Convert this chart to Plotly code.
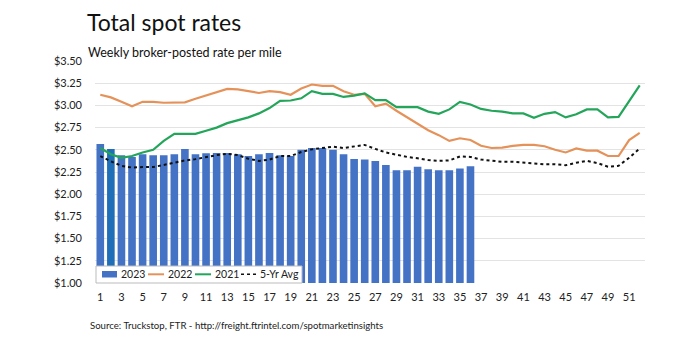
import plotly.graph_objects as go

weeks = list(range(1, 53))
tick_weeks = list(range(1, 52, 2))

rates_2023 = [2.565, 2.51, 2.44, 2.42, 2.45, 2.44, 2.44, 2.45, 2.51, 2.45,
              2.46, 2.465, 2.465, 2.45, 2.43, 2.45, 2.465, 2.44, 2.43, 2.50,
              2.52, 2.52, 2.50, 2.45, 2.395, 2.39, 2.375, 2.33, 2.27, 2.27,
              2.31, 2.28, 2.27, 2.27, 2.29, 2.315]

rates_2022 = [3.12, 3.09, 3.04, 2.99, 3.04, 3.04, 3.03, 3.03, 3.035, 3.075,
              3.11, 3.15, 3.185, 3.18, 3.16, 3.14, 3.16, 3.15, 3.12, 3.19,
              3.235, 3.22, 3.22, 3.16, 3.12, 3.13, 2.99, 3.02, 2.94, 2.865,
              2.79, 2.72, 2.665, 2.60, 2.63, 2.61, 2.545, 2.52, 2.525, 2.545,
              2.555, 2.555, 2.54, 2.50, 2.47, 2.515, 2.49, 2.49, 2.43, 2.43,
              2.61, 2.69]

rates_2021 = [2.52, 2.45, 2.41, 2.43, 2.47, 2.50, 2.60, 2.68, 2.68, 2.68,
              2.715, 2.75, 2.80, 2.83, 2.865, 2.91, 2.97, 3.05, 3.055, 3.08,
              3.16, 3.13, 3.13, 3.095, 3.11, 3.135, 3.06, 3.06, 2.98, 2.98,
              2.98, 2.93, 2.905, 2.955, 3.04, 3.01, 2.96, 2.94, 2.93, 2.91,
              2.91, 2.86, 2.905, 2.925, 2.865, 2.90, 2.955, 2.955, 2.865, 2.87,
              3.055, 3.225]

avg_5yr = [2.43, 2.37, 2.32, 2.30, 2.305, 2.305, 2.33, 2.355, 2.38, 2.395,
           2.42, 2.44, 2.455, 2.44, 2.40, 2.375, 2.39, 2.43, 2.43, 2.475,
           2.505, 2.52, 2.535, 2.52, 2.535, 2.555, 2.51, 2.47, 2.445, 2.42,
           2.405, 2.385, 2.375, 2.38, 2.425, 2.42, 2.39, 2.375, 2.365, 2.365,
           2.355, 2.345, 2.337, 2.337, 2.326, 2.355, 2.375, 2.35, 2.31, 2.32,
           2.41, 2.515]

series_names = ["2023", "2022", "2021", "5-Yr Avg"]

BLUE, BLUE_HL = "#4472C4", "#1F6FB8"
ORANGE, GREEN, DOT = "#E5925A", "#23A55A", "#111111"

bar_colors = [BLUE] * len(rates_2023)
bar_colors[1] = BLUE_HL

fig = go.Figure()
fig.add_trace(go.Bar(x=weeks[:len(rates_2023)], y=rates_2023, name=series_names[0],
                     marker=dict(color=bar_colors, line=dict(width=0)),
                     width=0.72))
fig.add_trace(go.Scatter(x=weeks, y=rates_2022, name=series_names[1], mode="lines",
                         line=dict(color=ORANGE, width=2.2)))
fig.add_trace(go.Scatter(x=weeks, y=rates_2021, name=series_names[2], mode="lines",
                         line=dict(color=GREEN, width=2.2)))
fig.add_trace(go.Scatter(x=weeks, y=avg_5yr, name=series_names[3], mode="lines",
                         line=dict(color=DOT, width=2, dash="dot")))

font_family = "Lato, 'Open Sans', sans-serif"

W, H = 683, 354
pl, pr, pt, pb = 95, 38, 61, 71
pw, ph = W - pl - pr, H - pt - pb

fig.update_layout(
    width=W, height=H,
    margin=dict(l=pl, r=pr, t=pt, b=pb),
    paper_bgcolor="white", plot_bgcolor="white",
    font=dict(family=font_family, color="#222222", size=11),
    showlegend=False,
    xaxis=dict(range=[0.5, 52.5], tickmode="array", tickvals=tick_weeks,
               ticktext=[str(w) for w in tick_weeks], showgrid=False,
               zeroline=False, showline=False, ticks="",
               ticklabelstandoff=6,
               tickfont=dict(size=11, color="#222222")),
    yaxis=dict(range=[1.0, 3.5], dtick=0.25, tick0=1.0, tickformat="$.2f",
               showgrid=True, gridcolor="#E3E3E3", gridwidth=1,
               zeroline=False, showline=False, ticks="",
               ticklabelstandoff=12,
               tickfont=dict(size=11, color="#222222")),
)

def px(x):
    return (x - pl) / pw

def py(y):
    return 1 - (y - pt) / ph

# Titles and source
fig.add_annotation(text="Total spot rates", x=px(85), y=py(22), xref="paper", yref="paper",
                   xanchor="left", yanchor="middle", showarrow=False,
                   font=dict(size=23, family=font_family, color="#111111"))
fig.add_annotation(text="Weekly broker-posted rate per mile", x=px(86), y=py(53),
                   xref="paper", yref="paper", xanchor="left", yanchor="middle",
                   showarrow=False,
                   font=dict(size=12.5, family=font_family, color="#111111"))
fig.add_annotation(text="Source: Truckstop, FTR - http://freight.ftrintel.com/spotmarketinsights",
                   x=px(88), y=py(325), xref="paper", yref="paper", xanchor="left",
                   yanchor="middle", showarrow=False,
                   font=dict(size=9.6, family=font_family, color="#222222"))

# Compact legend box (Excel-style)
fig.add_shape(type="rect", xref="paper", yref="paper",
              x0=px(96), x1=px(302), y0=py(283), y1=py(266),
              fillcolor="white", line=dict(color="#BBBBBB", width=1), layer="above")
ly = py(274.3)
fig.add_shape(type="rect", xref="paper", yref="paper",
              x0=px(102), x1=px(117), y0=py(277.5), y1=py(271),
              fillcolor=BLUE, line=dict(width=0), layer="above")
fig.add_shape(type="line", xref="paper", yref="paper",
              x0=px(148), x1=px(164), y0=ly, y1=ly,
              line=dict(color=ORANGE, width=2), layer="above")
fig.add_shape(type="line", xref="paper", yref="paper",
              x0=px(195), x1=px(211), y0=ly, y1=ly,
              line=dict(color=GREEN, width=2), layer="above")
fig.add_shape(type="line", xref="paper", yref="paper",
              x0=px(241), x1=px(256), y0=ly, y1=ly,
              line=dict(color=DOT, width=1.6, dash="dot"), layer="above")
for name, xpos in zip(series_names, [119, 166, 213, 258]):
    fig.add_annotation(text=name, x=px(xpos), y=ly, xref="paper", yref="paper",
                       xanchor="left", yanchor="middle", showarrow=False,
                       font=dict(size=10.5, family=font_family, color="#222222"))

fig.write_html("out.html")
